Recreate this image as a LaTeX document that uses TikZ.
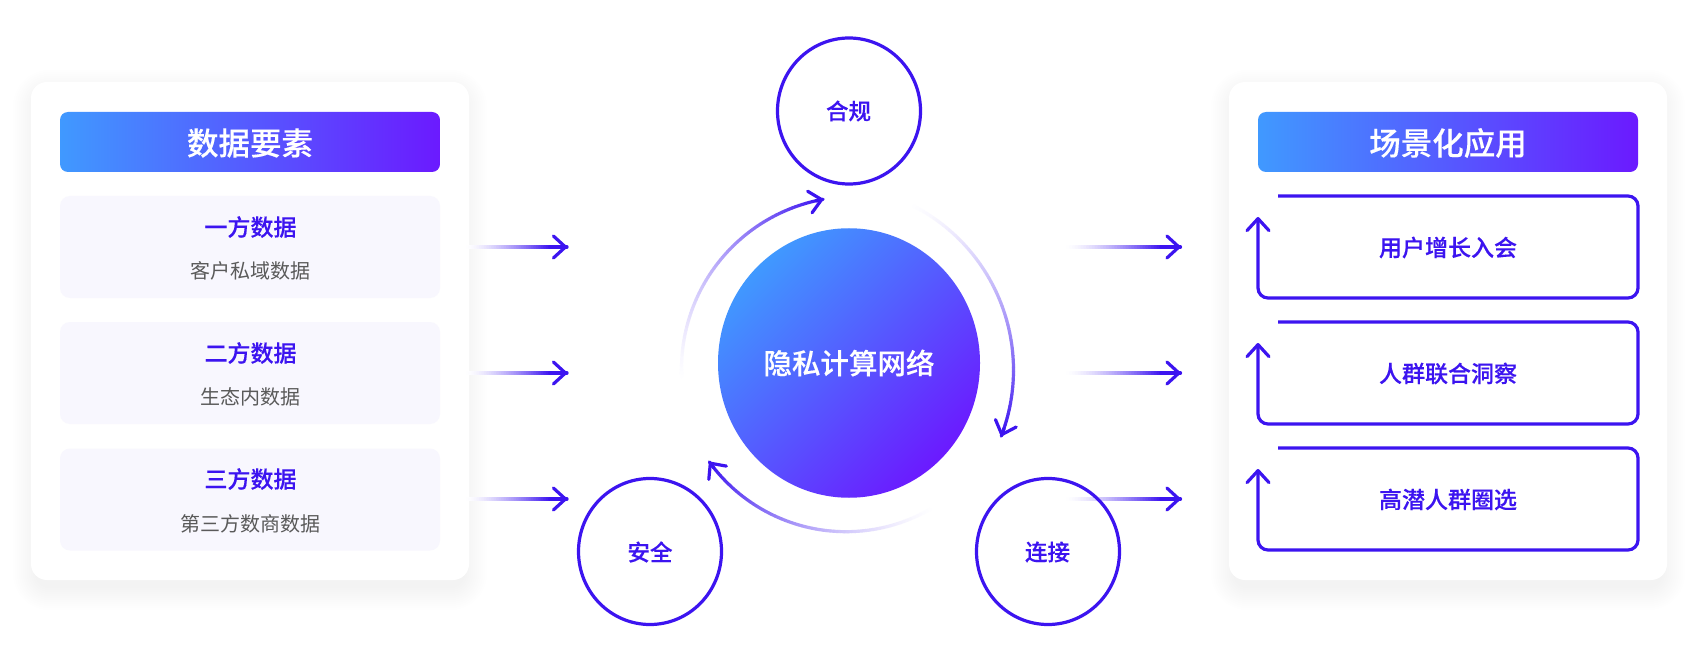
\documentclass[tikz,border=0pt]{standalone}
\usepackage{fontspec}
\setmainfont{Noto Sans CJK SC}
\newfontfamily\medfont{Noto Sans CJK SC Medium}[FakeBold=0.25]
\usetikzlibrary{arrows.meta,calc,shapes.geometric}
\definecolor{ink}{HTML}{3C14F0}
\definecolor{gradA}{HTML}{4099FF}
\definecolor{gradB}{HTML}{6B1AFF}
\definecolor{softbox}{HTML}{F8F7FE}
\definecolor{greytext}{HTML}{5A5A5A}
\newcommand{\fs}[1]{\fontsize{#1}{#1}\selectfont}
\newcommand{\fadestraight}[2]{%
  \foreach \i in {1,...,40}{%
    \pgfmathsetmacro\pp{min(100,100*(\i/34)^1.5)}%
    \pgfmathsetmacro\ta{(\i-1)/40}%
    \pgfmathsetmacro\tb{\i/40}%
    \draw[fadeseg,color=ink!\pp!white] ($(#1)!\ta!(#2)$) -- ($(#1)!\tb!(#2)$);
  }%
  \draw[tipline] ($(#1)!0.9!(#2)$) -- (#2);
}
\newcommand{\fadearc}[5]{%
  \foreach \i in {1,...,70}{%
    \pgfmathsetmacro\pp{100*(\i/70)^1.5}%
    \pgfmathsetmacro\ta{#4+(#5-#4)*(\i-1)/70}%
    \pgfmathsetmacro\tb{#4+(#5-#4)*\i/70}%
    \coordinate (p) at ({#1+#3*cos(\ta)},{#2-#3*sin(\ta)});
    \coordinate (q) at ({#1+#3*cos(\tb)},{#2-#3*sin(\tb)});
    \draw[fadeseg,color=ink!\pp!white] (p) -- (q);
  }%
  \pgfmathsetmacro\ta{#5-(#5-#4)*0.03}%
  \coordinate (p) at ({#1+#3*cos(\ta)},{#2-#3*sin(\ta)});
  \coordinate (q) at ({#1+#3*cos(#5)},{#2-#3*sin(#5)});
  \draw[tipline] (p) -- (q);
}
\tikzset{
  panelbox/.style={fill=white,rounded corners=16pt,minimum width=#1,minimum height=498pt,inner sep=0pt},
  headbox/.style={left color=gradA,right color=gradB,rounded corners=8pt,minimum width=380pt,minimum height=60pt,inner sep=0pt},
  headtext/.style={text=white,inner sep=0pt,font=\medfont\fs{31.5}},
  subbox/.style={fill=softbox,rounded corners=10pt,minimum width=380pt,minimum height=102pt,inner sep=0pt},
  titletext/.style={text=ink,inner sep=0pt,font=\medfont\fs{23}},
  subtext/.style={text=greytext,inner sep=0pt,font=\fs{20}},
  fadeseg/.style={line width=3.2pt,line cap=round},
  tipline/.style={line width=3.2pt,color=ink,line cap=round,line join=round,-{Straight Barb[length=12pt,width=22pt,line width=3.2pt,round]}},
  ringnode/.style={ellipse,draw=ink,line width=3.2pt,minimum width=143pt,minimum height=146pt,inner sep=0pt},
  ringtext/.style={text=ink,inner sep=0pt,font=\medfont\fs{22.5}},
  appline/.style={line width=3.2pt,color=ink,rounded corners=10pt,-{Straight Barb[length=12pt,width=22pt,line width=3.2pt,round]}},
}
\begin{document}
\begin{tikzpicture}[x=1pt,y=-1pt]
\useasboundingbox (0,0) rectangle (1694,660);
\fill[white] (0,0) rectangle (1694,660);
% soft shadows
\foreach \e in {2,4,...,24}{%
  \fill[black,opacity=0.0035,rounded corners={12pt+\e*1pt}] ({37-\e},{94-\e}) rectangle ({463+\e},{586+\e});
  \fill[black,opacity=0.0035,rounded corners={12pt+\e*1pt}] ({1235-\e},{94-\e}) rectangle ({1661+\e},{586+\e});
}
\node[panelbox=438pt] (leftpanel) at (250,331) {};
\node[panelbox=438pt] (rightpanel) at (1448,331) {};
% left
\node[headbox] (lhead) at (250,142) {};
\node[headtext] (lheadt) at (250,143) {数据要素};
\node[subbox] (s1) at (250,247) {};
\node[subbox] (s2) at (250,373) {};
\node[subbox] (s3) at (250,499.5) {};
\node[titletext] (t1) at (250.5,227) {一方数据};
\node[subtext] (d1) at (250.5,271) {客户私域数据};
\node[titletext] (t2) at (250.5,353) {二方数据};
\node[subtext] (d2) at (250.5,397) {生态内数据};
\node[titletext] (t3) at (250.5,479) {三方数据};
\node[subtext] (d3) at (250.5,523.5) {第三方数商数据};
% right
\node[headbox] (rhead) at (1448,142) {};
\node[headtext] (rheadt) at (1448,143) {场景化应用};
\foreach \top/\nm in {196/a,322/b,448/c}{%
  \coordinate (\nm1) at (1278,\top);
  \coordinate (\nm2) at (1638,\top);
  \coordinate (\nm3) at (1638,\top+102);
  \coordinate (\nm4) at (1258,\top+102);
  \coordinate (\nm5) at (1258,\top+21);
  \draw[appline] (\nm1) -- (\nm2) -- (\nm3) -- (\nm4) -- (\nm5);
}
\node[titletext] (r1) at (1448,247.5) {用户增长入会};
\node[titletext] (r2) at (1448,373.5) {人群联合洞察};
\node[titletext] (r3) at (1448,499.5) {高潜人群圈选};
% straight arrows
\foreach \y/\nm in {247/u,373/v,499/w}{%
  \coordinate (\nm L) at (468,\y);
  \coordinate (\nm M) at (567,\y);
  \coordinate (\nm R) at (1068,\y);
  \coordinate (\nm S) at (1180.5,\y);
  \fadestraight{\nm L}{\nm M}
  \fadestraight{\nm R}{\nm S}
}
% centre
\node[ellipse,minimum width=262pt,minimum height=269.5pt,inner sep=0pt,top color=gradA,bottom color=gradB,shading angle=45] (net) at (849,363) {};
\node[text=white,inner sep=0pt,font=\medfont\fs{28.5}] (nett) at (849,363) {隐私计算网络};
\fadearc{854}{369}{172.5}{183.7}{100.3}
\fadearc{829}{370}{184.5}{63.9}{-21}
\fadearc{846}{363}{168.7}{-58.9}{-144.1}
\node[ringnode] (hegui) at (849,111) {};
\node[ringnode] (anquan) at (650,551.5) {};
\node[ringnode] (lianjie) at (1048,551.5) {};
\node[ringtext] (heguit) at (848.5,111) {合规};
\node[ringtext] (anquant) at (650,552) {安全};
\node[ringtext] (lianjiet) at (1047.5,552) {连接};
\end{tikzpicture}
\end{document}
